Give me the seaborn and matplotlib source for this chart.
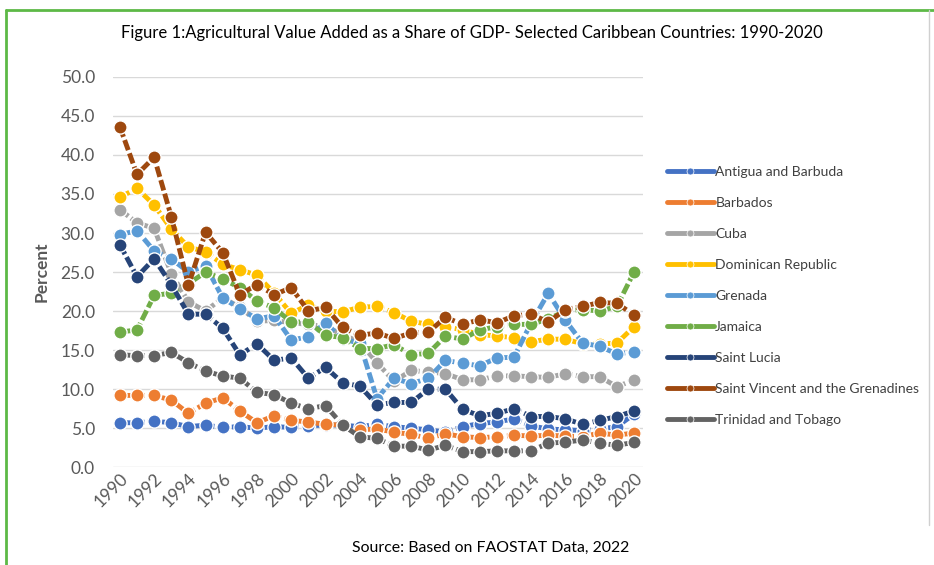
import pandas as pd
import numpy as np
import matplotlib.pyplot as plt
import seaborn as sns
from matplotlib.lines import Line2D

sns.set_style("white")
plt.rcParams['font.family'] = ['Lato', 'DejaVu Sans']

# Datos (porcentaje del PIB)
years = list(range(1990, 2021))
antigua = [5.7, 5.7, 5.9, 5.7, 5.2, 5.4, 5.1, 5.2, 5.0, 5.2, 5.1, 5.3, 5.4, 5.4, 5.2, 5.5,
           5.2, 5.0, 4.8, 4.5, 5.2, 5.6, 5.8, 6.2, 5.3, 4.9, 4.8, 4.7, 4.9, 5.2, 6.8]
barbados = [9.2, 9.2, 9.2, 8.6, 6.9, 8.2, 8.9, 7.2, 5.7, 6.6, 6.0, 5.8, 5.5, 5.4, 4.8, 4.9,
            4.5, 4.2, 3.7, 4.3, 3.9, 3.8, 3.9, 4.1, 4.0, 4.1, 4.0, 3.9, 4.4, 4.1, 4.4]
cuba = [33.0, 31.3, 30.6, 24.8, 21.2, 20.0, 21.7, 20.5, 18.7, 18.8, 18.5, 18.3, 18.0, 17.0, 16.0, 13.4,
        11.0, 12.4, 12.2, 12.0, 11.2, 11.2, 11.7, 11.7, 11.6, 11.5, 12.0, 11.6, 11.6, 10.3, 11.2]
dominican = [34.6, 35.7, 33.6, 30.5, 28.2, 27.6, 26.0, 25.3, 24.6, 22.3, 19.7, 20.8, 20.0, 19.9, 20.5, 20.6,
             19.8, 18.7, 18.3, 18.0, 17.6, 17.0, 16.8, 16.6, 16.1, 16.4, 16.4, 15.8, 15.8, 15.9, 18.0]
grenada = [29.8, 30.3, 27.7, 26.7, 25.0, 25.8, 21.7, 20.3, 19.0, 19.4, 16.3, 16.7, 18.5, 16.4, 15.9, 8.8,
           11.4, 10.7, 11.4, 13.7, 13.3, 13.0, 14.0, 14.1, 18.5, 22.3, 18.8, 15.9, 15.5, 14.5, 14.8]
jamaica = [17.3, 17.6, 22.0, 22.3, 23.5, 25.0, 24.1, 23.0, 21.3, 20.4, 18.6, 18.6, 16.9, 16.6, 15.2, 15.2,
           15.7, 14.4, 14.6, 16.8, 16.4, 17.6, 18.0, 18.3, 18.3, 19.0, 20.0, 20.2, 20.0, 20.6, 25.0]
saint_lucia = [28.5, 24.4, 26.7, 23.4, 19.6, 19.6, 17.8, 14.4, 15.8, 13.7, 14.0, 11.4, 12.8, 10.8, 10.4, 8.0,
               8.3, 8.3, 10.0, 10.0, 7.4, 6.6, 6.9, 7.5, 6.5, 6.5, 6.2, 5.5, 6.0, 6.5, 7.2]
st_vincent = [43.6, 37.5, 39.7, 32.1, 23.3, 30.1, 27.5, 22.1, 23.4, 22.1, 23.0, 20.0, 20.5, 17.9, 16.9, 17.2,
              16.5, 17.2, 17.3, 19.2, 18.3, 18.9, 18.5, 19.4, 19.6, 18.6, 20.2, 20.6, 21.1, 21.0, 19.5]
trinidad = [14.4, 14.3, 14.3, 14.7, 13.4, 12.3, 11.7, 11.4, 9.6, 9.3, 8.2, 7.5, 7.9, 5.4, 3.9, 3.7,
            2.7, 2.7, 2.2, 2.8, 2.0, 2.0, 2.1, 2.1, 2.1, 3.1, 3.2, 3.5, 3.1, 2.8, 3.2]

countries = ['Antigua and Barbuda', 'Barbados', 'Cuba', 'Dominican Republic', 'Grenada',
             'Jamaica', 'Saint Lucia', 'Saint Vincent and the Grenadines', 'Trinidad and Tobago']
colores = ['#4472C4', '#ED7D31', '#A5A5A5', '#FFC000', '#5B9BD5',
           '#70AD47', '#264478', '#9E480E', '#636363']
series = [antigua, barbados, cuba, dominican, grenada, jamaica, saint_lucia, st_vincent, trinidad]

df = pd.DataFrame({'Year': years})
for c, s in zip(countries, series):
    df[c] = s
df_long = df.melt(id_vars='Year', var_name='Country', value_name='Percent')

fig = plt.figure(figsize=(9.34, 5.65), dpi=100)
ax = fig.add_axes([0.121, 0.173, 0.567, 0.691])

sns.lineplot(data=df_long, x='Year', y='Percent', hue='Country', style='Country',
             hue_order=countries, style_order=countries, palette=colores,
             markers=['o'] * 9, dashes=[(2.2, 0.7)] * 9, linewidth=3.5,
             markersize=9.5, markeredgecolor='white', markeredgewidth=1.0,
             legend=False, ax=ax)

ax.set_xlim(1989.6, 2020.5)
ax.set_ylim(0, 50)
ax.set_yticks(np.arange(0, 51, 5))
ax.set_yticklabels([f'{v:.1f}' for v in np.arange(0, 51, 5)])
ax.set_xticks(range(1990, 2021, 2))
ax.tick_params(axis='both', length=0, colors='#595959', labelsize=12.5)
ax.tick_params(axis='y', pad=13)
ax.tick_params(axis='x', rotation=45, pad=2)
for lbl in ax.get_xticklabels():
    lbl.set_ha('right')
    lbl.set_rotation_mode('anchor')
ax.grid(axis='y', color='#D9D9D9', linewidth=1)
ax.set_axisbelow(True)
for s in ax.spines.values():
    s.set_visible(False)
ax.set_xlabel('')
ax.set_ylabel('Percent', fontweight='bold', color='#595959', fontsize=12.5, labelpad=8)

# Leyenda a la derecha
handles = [Line2D([0], [0], color=c, linewidth=3.5, marker='o', markersize=5,
                  markeredgecolor='white', markeredgewidth=0.5) for c in colores]
leg = ax.legend(handles, countries, loc='upper left', bbox_to_anchor=(1.035, 0.787),
                frameon=False, fontsize=10, labelspacing=1.37, handlelength=3.4,
                handletextpad=0.1, borderaxespad=0)
for t in leg.get_texts():
    t.set_color('#404040')

fig.text(0.505, 0.942, 'Figure 1:Agricultural Value Added as a Share of GDP- Selected Caribbean Countries: 1990-2020',
         ha='center', va='center', fontsize=12, color='black')
fig.text(0.525, 0.031, 'Source: Based on FAOSTAT Data, 2022', ha='center', va='center',
         fontsize=11.4, color='black')

# Marco verde
fig.add_artist(Line2D([0.006, 0.006], [0.0, 0.982], color='#5DB946', linewidth=2, transform=fig.transFigure))
fig.add_artist(Line2D([0.006, 1.0], [0.982, 0.982], color='#5DB946', linewidth=2, transform=fig.transFigure))
fig.add_artist(Line2D([0.995, 0.995], [0.07, 0.982], color='#D0D0D0', linewidth=1, transform=fig.transFigure))

fig.savefig('out.png', dpi=100)
